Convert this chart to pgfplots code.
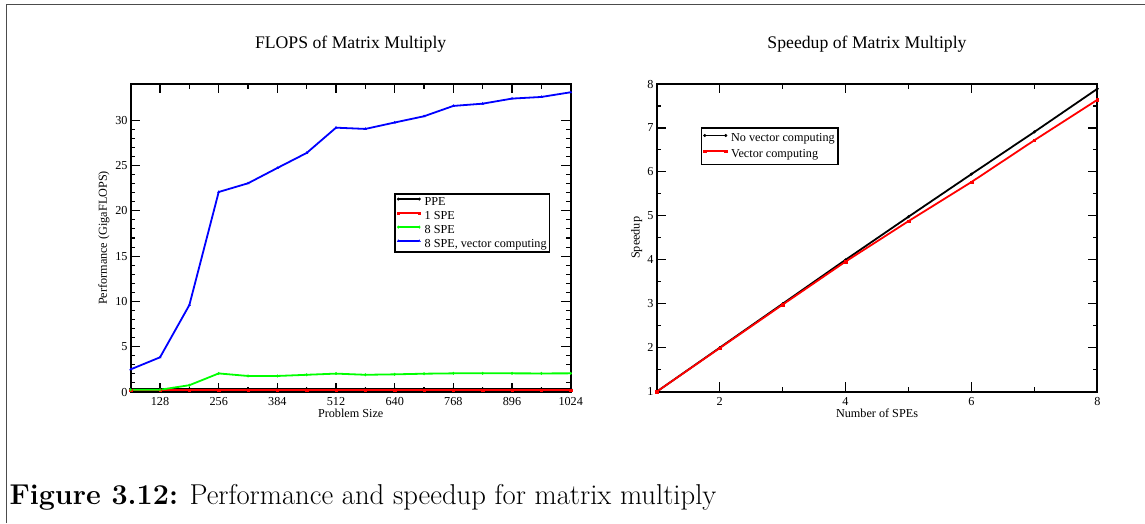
\documentclass[border=0pt]{standalone}
\usepackage{fontspec}
\usepackage{pgfplots}
\pgfplotsset{compat=1.18}
\newfontfamily\tnr{Liberation Serif}

\pgfplotstableread{
x ppe spe1 spe8 spe8v
64   0.35 0.22 0.25 2.50
128  0.35 0.22 0.25 3.83
192  0.35 0.22 0.75 9.60
256  0.35 0.22 2.05 22.08
320  0.35 0.22 1.77 23.04
384  0.35 0.22 1.77 24.73
448  0.35 0.22 1.90 26.39
512  0.35 0.22 2.03 29.18
576  0.35 0.22 1.90 29.04
640  0.35 0.22 1.95 29.75
704  0.35 0.22 2.02 30.44
768  0.35 0.22 2.06 31.58
832  0.35 0.22 2.06 31.83
896  0.35 0.22 2.06 32.39
960  0.35 0.22 2.05 32.57
1024 0.35 0.22 2.06 33.09
}\flops

\pgfplotstableread{
n novec vec
1 1.00 1.00
2 2.00 1.99
3 3.00 2.98
4 4.00 3.96
5 4.98 4.88
6 5.95 5.77
7 6.91 6.72
8 7.89 7.64
}\speedup

\definecolor{gblue}{RGB}{0,0,255}
\definecolor{gred}{RGB}{255,0,0}
\definecolor{ggreen}{RGB}{0,255,0}

\pgfplotsset{
  grace/.style={
    scale only axis,
    axis line style={line width=1.8pt},
    every tick/.style={black, line width=1.1pt},
    major tick length=9.3pt,
    minor tick length=4.7pt,
    tick align=inside,
    xtick pos=both, ytick pos=both,
    tick label style={font=\fontsize{12.2}{13}\tnr},
    label style={font=\fontsize{12.2}{13}\tnr},
    title style={font=\fontsize{17.7}{19}\tnr, at={(0.5,1)}, anchor=base, yshift=29.7pt},
    /pgf/number format/assume math mode=true,
    /pgf/number format/set thousands separator={},
    xticklabel style={anchor=base, yshift=-13.3pt},
    yticklabel style={anchor=east, inner sep=0pt, xshift=-3pt},
    xlabel style={at={(axis description cs:0.5,0)}, anchor=base, yshift=-25.3pt},
    legend cell align=left,
    legend style={draw=black, line width=1.5pt, font=\fontsize{12.2}{13}\tnr,
      inner xsep=2pt, inner ysep=1pt, row sep=0pt, column sep=3pt,
      nodes={inner sep=1pt, text height=9pt, text depth=3pt}},
    legend image code/.code={\draw[line width=1.8pt,#1,mark repeat=1,mark phase=1] plot coordinates {(0pt,3pt) (21pt,3pt)};},
    every axis plot/.append style={line width=1.8pt, mark size=1.3pt, mark options={solid, line width=0.4pt}},
  }
}

\begin{document}
\begin{tikzpicture}[x=1pt,y=1pt]
\useasboundingbox (0,0) rectangle (1145,523);
\draw[line width=1.2pt, black!70] (6.5,0) -- (6.5,518.5) -- (1145,518.5);

\begin{axis}[grace,
  at={(130.7pt,131pt)}, anchor=south west,
  width=440pt, height=308pt,
  xmin=64, xmax=1024, ymin=0, ymax=34,
  xtick={128,256,...,1024}, minor x tick num=1,
  ytick={0,5,...,30}, minor y tick num=4,
  title={FLOPS of Matrix Multiply},
  xlabel={Problem Size},
  ylabel={Performance (GigaFLOPS)},
  ylabel style={at={(axis description cs:-0.0607,0.5)}, anchor=center},
  legend style={at={(0.599,0.645)}, anchor=north west},
]
\addplot[black, mark=*] table[x=x, y=ppe] {\flops};
\addlegendentry{PPE}
\addplot[gred, mark=square*] table[x=x, y=spe1] {\flops};
\addlegendentry{1 SPE}
\addplot[ggreen, mark=diamond*] table[x=x, y=spe8] {\flops};
\addlegendentry{8 SPE}
\addplot[gblue, mark=triangle*] table[x=x, y=spe8v] {\flops};
\addlegendentry{8 SPE, vector computing}
\end{axis}

\begin{axis}[grace,
  at={(656.7pt,131.3pt)}, anchor=south west,
  width=440.6pt, height=307.7pt,
  xmin=1, xmax=8, ymin=1, ymax=8,
  xtick={2,4,6,8}, minor x tick num=1,
  ytick={1,2,...,8}, minor y tick num=1,
  title={Speedup of Matrix Multiply},
  title style={xshift=-10pt},
  xlabel={Number of SPEs},
  ylabel={Speedup},
  ylabel style={at={(axis description cs:-0.0454,0.5)}, anchor=center},
  legend style={at={(0.0999,0.859)}, anchor=north west, inner ysep=2.5pt,
    nodes={inner sep=1pt, text height=10pt, text depth=3.7pt}},
]
\addplot[black, mark=*] table[x=n, y=novec] {\speedup};
\addlegendentry{No vector computing}
\addplot[gred, mark=square*] table[x=n, y=vec] {\speedup};
\addlegendentry{Vector computing}
\end{axis}

\node[anchor=base west, inner sep=0pt, font=\fontsize{28.7}{32}\selectfont] at (9.3,18.7)
  {\textbf{Figure 3.12:} Performance and speedup for matrix multiply};
\end{tikzpicture}
\end{document}
